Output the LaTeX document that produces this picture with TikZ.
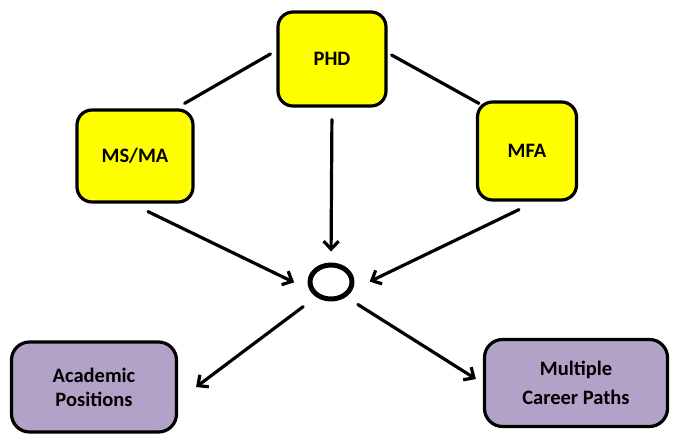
\documentclass[tikz,border=0pt]{standalone}
\usepackage{fontspec}
\setmainfont{Carlito}
\usetikzlibrary{arrows.meta,shapes.geometric}
\definecolor{boxyellow}{HTML}{FFFF00}
\definecolor{boxlilac}{HTML}{B3A2C7}
\begin{document}
\begin{tikzpicture}[x=1pt, y=-1pt, font=\fontsize{20.5}{24}\selectfont\bfseries, line join=round, line cap=round,
		degree/.style={draw, line width=3.2pt, fill=boxyellow, rounded corners=15pt, align=center},
		career/.style={draw, line width=3.2pt, fill=boxlilac, rounded corners=18pt, align=center},
		link/.style={line width=3.2pt},
		arr/.style={line width=3.2pt, -{Straight Barb[length=8pt, width=15pt, line width=3.2pt]}}]
			\useasboundingbox (0,0) rectangle (674,436);
			% degrees
			\node[degree, minimum width=108pt, minimum height=94pt] (phd) at (332,59) {PHD};
			\node[degree, minimum width=116pt, minimum height=92pt] (msma) at (135,156) {MS/MA};
			\node[degree, minimum width=99pt, minimum height=98pt] (mfa) at (527,151) {MFA};
			\node[ellipse, draw, line width=5pt, minimum width=42pt, minimum height=34pt] (hub) at (331,282) {};
			% careers
			\node[career, minimum width=165pt, minimum height=90pt] (acad) at (94,387) {Academic\\Positions};
			\node[career, minimum width=183pt, minimum height=87pt] (multi) at (576,383) {Multiple\\[5pt]Career Paths};
			% connectors
			\draw[link] ([xshift=-6pt,yshift=5pt]phd.west) -- ([xshift=-10pt,yshift=5pt]msma.north east);
			\draw[link] ([xshift=4pt,yshift=4pt]phd.east) -- ([xshift=3pt,yshift=-3pt]mfa.north west);
			\draw[arr, shorten <=12pt, shorten >=11pt] (phd.south) -- (hub.north);
			\draw[arr, shorten >=17pt] ([xshift=13pt,yshift=-8pt]msma.south) -- (hub.200);
			\draw[arr, shorten >=19pt] ([xshift=-8pt,yshift=-8pt]mfa.south) -- (hub.340);
			\draw[arr, shorten <=16pt] (hub.225) -- ([xshift=18pt]acad.east);
			\draw[arr, shorten <=14pt] (hub.315) -- ([xshift=-7pt,yshift=4pt]multi.west);
		\end{tikzpicture}
\end{document}
